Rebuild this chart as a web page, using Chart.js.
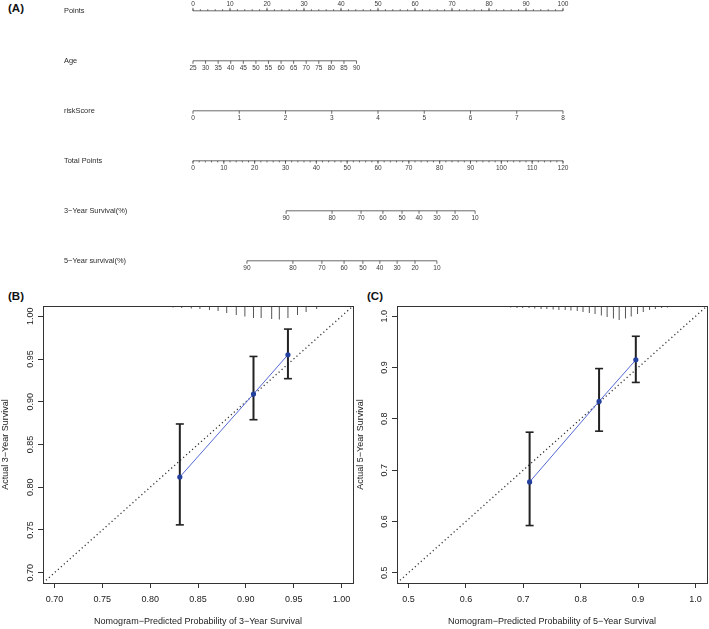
<!DOCTYPE html>
<html>
<head>
<meta charset="utf-8">
<script src="https://cdn.jsdelivr.net/npm/chart.js@4.4.1/dist/chart.umd.min.js"></script>
<style>
  body { margin: 0; background: #fff; width: 709px; height: 629px; position: relative; overflow: hidden;
         font-family: "Liberation Sans", Arial, sans-serif; }
  canvas { position: absolute; }
  .tag { position: absolute; font-weight: bold; font-size: 11.5px; line-height: 13px; color: #111; }
</style>
</head>
<body>
<div class="tag" style="left:8px;top:2px">(A)</div>
<div class="tag" style="left:8px;top:290px">(B)</div>
<div class="tag" style="left:367px;top:290px">(C)</div>
<canvas id="nomo" width="709" height="280" style="left:0;top:0"></canvas>
<canvas id="cal3" width="355" height="349" style="left:0;top:280px"></canvas>
<canvas id="cal5" width="354" height="349" style="left:355px;top:280px"></canvas>
<script>
const FONT = '"Liberation Sans", Arial, sans-serif';

// ---- (A) nomogram scales ----
const pointsTicks = [0, 10, 20, 30, 40, 50, 60, 70, 80, 90, 100];
const ageTicks = [25, 30, 35, 40, 45, 50, 55, 60, 65, 70, 75, 80, 85, 90];
const agePointsSpan = [0, 44.2];      // points for age 25 and age 90
const riskTicks = [0, 1, 2, 3, 4, 5, 6, 7, 8];
const riskPointsSpan = [0, 100];      // points for riskScore 0 and 8
const totalTicks = [0, 10, 20, 30, 40, 50, 60, 70, 80, 90, 100, 110, 120];
const surv3Labels = [90, 80, 70, 60, 50, 40, 30, 20, 10];
const surv3AtTotal = [30.2, 45.1, 54.5, 61.6, 67.8, 73.3, 79.1, 85.0, 91.5];
const surv5Labels = [90, 80, 70, 60, 50, 40, 30, 20, 10];
const surv5AtTotal = [17.5, 32.4, 41.8, 49.0, 55.1, 60.6, 66.2, 72.0, 79.1];

// ---- (B) 3-year calibration ----
const pred3 = [0.831, 0.908, 0.944];
const obs3 = [0.812, 0.909, 0.955];
const lower3 = [0.756, 0.879, 0.927];
const upper3 = [0.874, 0.953, 0.985];
const rug3X = [0.704, 0.727, 0.748, 0.767, 0.797, 0.805, 0.814, 0.824, 0.833, 0.843, 0.852, 0.862,
               0.871, 0.880, 0.890, 0.899, 0.908, 0.916, 0.927, 0.935, 0.944, 0.954, 0.963, 0.974];
const rug3N = [1, 1, 1, 1, 2, 2, 2, 3, 4, 5, 6, 8, 10, 14, 18, 21, 24, 24, 26, 27, 24, 18, 12, 6];
const ticks3 = [0.70, 0.75, 0.80, 0.85, 0.90, 0.95, 1.00];

// ---- (C) 5-year calibration ----
const pred5 = [0.711, 0.832, 0.896];
const obs5 = [0.677, 0.834, 0.915];
const lower5 = [0.592, 0.776, 0.871];
const upper5 = [0.774, 0.898, 0.961];
const rug5X = [0.500, 0.543, 0.583, 0.621, 0.647, 0.657, 0.668, 0.678, 0.689, 0.699, 0.710, 0.720,
               0.731, 0.741, 0.752, 0.762, 0.773, 0.783, 0.794, 0.804, 0.815, 0.825, 0.836, 0.846,
               0.857, 0.867, 0.878, 0.888, 0.899, 0.909, 0.920, 0.930, 0.941, 0.951];
const rug5N = [1, 1, 1, 1, 2, 2, 2, 3, 4, 4, 4, 5, 6, 6, 7, 8, 8, 9, 10, 12, 14, 16, 19, 22,
               25, 28, 25, 21, 16, 12, 8, 6, 4, 3];
const ticks5 = [0.5, 0.6, 0.7, 0.8, 0.9, 1.0];

// ---------- nomogram ----------
const perTotal = 100 / 120;
const lin = (v, a, b, span) => span[0] + (v - a) / (b - a) * (span[1] - span[0]);
const everyStep = (a, b, s) => { const out = []; for (let v = a; v <= b + 1e-9; v += s) out.push(v); return out; };

const rows = [
  { name: 'Points', up: true, pos: pointsTicks, labels: pointsTicks, minor: everyStep(0, 100, 2) },
  { name: 'Age', pos: ageTicks.map(a => lin(a, 25, 90, agePointsSpan)), labels: ageTicks, minor: [] },
  { name: 'riskScore', pos: riskTicks.map(r => lin(r, 0, 8, riskPointsSpan)), labels: riskTicks, minor: [] },
  { name: 'Total Points', pos: totalTicks.map(t => t * perTotal), labels: totalTicks,
    minor: everyStep(0, 120, 2).map(t => t * perTotal) },
  { name: '3\u2212Year Survival(%)', pos: surv3AtTotal.map(t => t * perTotal), labels: surv3Labels, minor: [] },
  { name: '5\u2212Year survival(%)', pos: surv5AtTotal.map(t => t * perTotal), labels: surv5Labels, minor: [] }
];

const nomoPlugin = {
  id: 'nomo',
  afterDatasetsDraw(chart) {
    const { ctx, scales: { x, y } } = chart;
    ctx.save();
    ctx.strokeStyle = '#444';
    ctx.lineWidth = 0.8;
    rows.forEach((row, r) => {
      const py = y.getPixelForValue(r);
      const dir = row.up ? -1 : 1;
      ctx.fillStyle = '#2a2a2a';
      ctx.font = '7.4px ' + FONT;
      ctx.textAlign = 'left';
      ctx.textBaseline = 'middle';
      ctx.fillText(row.name, 64, py);
      row.minor.forEach(v => {
        const px = x.getPixelForValue(v);
        ctx.beginPath(); ctx.moveTo(px, py); ctx.lineTo(px, py + dir * 1.6); ctx.stroke();
      });
      ctx.fillStyle = '#3a3a3a';
      ctx.font = '6.5px ' + FONT;
      ctx.textAlign = 'center';
      row.pos.forEach((v, i) => {
        const px = x.getPixelForValue(v);
        ctx.beginPath(); ctx.moveTo(px, py); ctx.lineTo(px, py + dir * 3); ctx.stroke();
        ctx.fillText(String(row.labels[i]), px, py + dir * 7);
      });
    });
    ctx.restore();
  }
};

new Chart(document.getElementById('nomo'), {
  type: 'scatter',
  data: {
    datasets: rows.map((row, r) => ({
      data: [{ x: Math.min(...row.pos), y: r }, { x: Math.max(...row.pos), y: r }],
      showLine: true, borderColor: '#444', borderWidth: 0.8, pointRadius: 0
    }))
  },
  options: {
    responsive: false, animation: false, events: [],
    layout: { padding: 0, autoPadding: false },
    plugins: { legend: { display: false }, tooltip: { enabled: false } },
    scales: {
      x: { type: 'linear', display: false, min: -52.16, max: 139.46 },
      y: { type: 'linear', display: false, reverse: true, min: -0.216, max: 5.384 }
    }
  },
  plugins: [nomoPlugin]
});

// ---------- calibration plots ----------
const frame = {
  id: 'frame',
  afterDraw(chart) {
    const { ctx, chartArea: a } = chart;
    ctx.save();
    ctx.strokeStyle = '#333';
    ctx.lineWidth = 1;
    ctx.strokeRect(Math.round(a.left) + 0.5, Math.round(a.top) + 0.5,
                   Math.round(a.right - a.left), Math.round(a.bottom - a.top));
    ctx.restore();
  }
};

function calib(id, o) {
  const [lo, hi] = o.lims;
  const tickFont = { size: 9, family: FONT };
  new Chart(document.getElementById(id), {
    type: 'scatter',
    data: {
      datasets: [
        { // calibration curve
          data: o.pred.map((p, i) => ({ x: p, y: o.obs[i] })),
          showLine: true, borderColor: '#5468d4', borderWidth: 1,
          pointRadius: 2.6, pointBackgroundColor: '#23409e', pointBorderColor: '#23409e', pointBorderWidth: 0
        },
        { // error bar caps
          data: o.pred.flatMap((p, i) => [{ x: p, y: o.lower[i] }, { x: p, y: o.upper[i] }]),
          pointStyle: 'line', pointRadius: 4, pointBorderWidth: 1.6, pointBorderColor: '#222'
        },
        { // error bars
          data: o.pred.flatMap((p, i) => [{ x: p, y: o.lower[i] }, { x: p, y: o.upper[i] }, { x: p, y: null }]),
          showLine: true, spanGaps: false, borderColor: '#222', borderWidth: 2, pointRadius: 0
        },
        { // ideal line
          data: [{ x: lo, y: lo }, { x: hi, y: hi }],
          showLine: true, borderColor: '#333', borderWidth: 1.3, borderDash: [1.2, 2.8], pointRadius: 0
        },
        { // rug of predicted values
          data: o.rugX.map(v => ({ x: v, y: hi })),
          pointStyle: 'line', rotation: 90, clip: 0,
          pointRadius: c => o.rugN[c.dataIndex] * 0.5,
          pointBorderColor: '#555', pointBorderWidth: 1
        }
      ]
    },
    options: {
      responsive: false, animation: false, events: [],
      layout: { padding: { left: 0, right: 2, top: 26, bottom: 0 }, autoPadding: false },
      plugins: { legend: { display: false }, tooltip: { enabled: false } },
      scales: {
        x: {
          type: 'linear', min: lo, max: hi,
          afterBuildTicks: s => { s.ticks = o.ticks.map(v => ({ value: v })); },
          afterFit: s => { s.height = 46; s.paddingLeft = 0; s.paddingRight = 0; },
          ticks: { callback: v => v.toFixed(o.dec), color: '#222', font: tickFont, padding: 6.5,
                   maxRotation: 0, autoSkip: false },
          grid: { drawOnChartArea: false, drawTicks: true, tickLength: 5, color: '#333' },
          border: { color: '#333' },
          title: { display: true, text: o.xTitle, color: '#222', font: tickFont, padding: { top: 0, bottom: 1.6 } }
        },
        y: {
          type: 'linear', min: lo, max: hi,
          afterBuildTicks: s => { s.ticks = o.ticks.map(v => ({ value: v })); },
          afterFit: s => { s.width = o.yWidth; s.paddingTop = 0; s.paddingBottom = 0; },
          ticks: { callback: v => v.toFixed(o.dec), color: '#222', font: tickFont, padding: o.yPad,
                   minRotation: 90, maxRotation: 90, crossAlign: 'center', autoSkip: false },
          grid: { drawOnChartArea: false, drawTicks: true, tickLength: 5, color: '#333' },
          border: { color: '#333' },
          title: { display: true, text: o.yTitle, color: '#222', font: tickFont, padding: { top: 0.6, bottom: 0 } }
        }
      }
    },
    plugins: [frame]
  });
}

calib('cal3', {
  lims: [0.688, 1.012], ticks: ticks3, dec: 2, yWidth: 43, yPad: -0.8,
  pred: pred3, obs: obs3, lower: lower3, upper: upper3, rugX: rug3X, rugN: rug3N,
  xTitle: 'Nomogram\u2212Predicted Probability of 3\u2212Year Survival',
  yTitle: 'Actual 3\u2212Year Survival'
});

calib('cal5', {
  lims: [0.48, 1.02], ticks: ticks5, dec: 1, yWidth: 42, yPad: 0.75,
  pred: pred5, obs: obs5, lower: lower5, upper: upper5, rugX: rug5X, rugN: rug5N,
  xTitle: 'Nomogram\u2212Predicted Probability of 5\u2212Year Survival',
  yTitle: 'Actual 5\u2212Year Survival'
});
</script>
</body>
</html>
